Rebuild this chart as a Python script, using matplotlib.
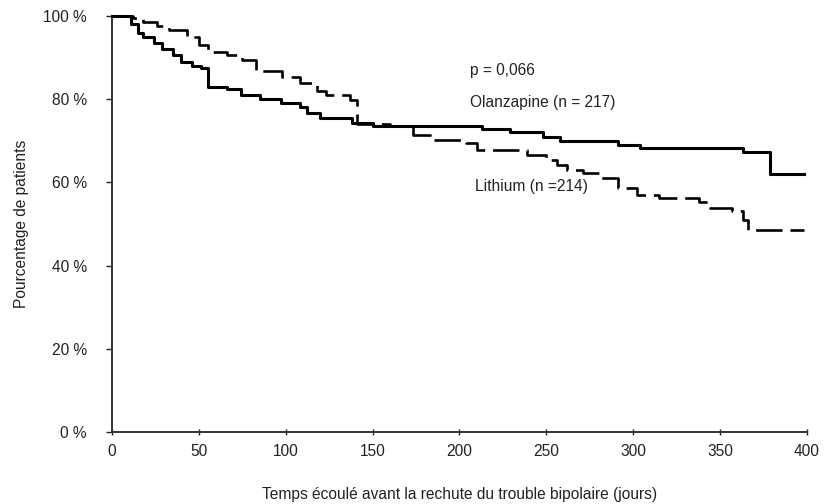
import matplotlib
matplotlib.use("Agg")
import matplotlib.pyplot as plt

plt.rcParams['font.family'] = ['Liberation Sans', 'DejaVu Sans']

# Kaplan-Meier steps (days, % patients without relapse)
olz_days = [0, 11, 15, 18, 24, 29, 35, 40, 46, 51, 55, 66, 74, 85, 97, 108,
            112, 120, 138, 150, 213, 229, 248, 258, 291, 304, 363, 379, 398]
olz_pct = [100, 98, 96, 95, 93.5, 92, 90.5, 89, 88, 87.5, 83, 82.5, 81, 80,
           79, 78, 76.7, 75.5, 74.3, 73.5, 72.8, 72, 71, 70, 69, 68.3, 67.3,
           62, 62]

li_days = [0, 12, 18, 26, 33, 43, 50, 55, 66, 75, 83, 98, 108, 118, 123, 137,
           141, 160, 173, 183, 204, 210, 239, 250, 256, 262, 271, 281, 291,
           302, 315, 338, 344, 357, 363, 366, 398]
li_pct = [100, 99.5, 98.5, 97.5, 96.6, 95, 93, 91.3, 90.6, 89.4, 86.8, 85.3,
          84, 82, 81, 79.8, 74, 73.5, 71.4, 70.2, 69.5, 67.8, 66.6, 65.4,
          64.2, 63, 62.2, 61, 58.6, 57, 56.2, 55.3, 53.8, 53, 51, 48.5, 48.5]

fs = 11.2
txt = '#222'

fig = plt.figure(figsize=(8.27, 5.04), dpi=100)
ax = fig.add_axes([0.1354, 0.1429, 0.8404, 0.8254])

ax.step(olz_days, olz_pct, where='post', color='black', lw=2.2,
        clip_on=False, zorder=3)
li_line, = ax.step(li_days, li_pct, where='post', color='black', lw=1.9,
                   clip_on=False, zorder=3)
li_line.set_dashes([10, 3])

ax.text(206, 87, "p = 0,066", fontsize=fs, color=txt, va='center')
ax.text(206, 79.3, "Olanzapine (n = 217)", fontsize=fs, color=txt,
        va='center')
ax.text(209, 58.9, "Lithium (n =214)", fontsize=fs, color=txt, va='center')

ax.set_xlim(0, 400)
ax.set_ylim(0, 100)
ax.set_xticks(range(0, 401, 50))
ax.set_yticks(range(0, 101, 20))
ax.set_yticklabels([f"{v} %" for v in range(0, 101, 20)])
ax.tick_params(axis='x', direction='inout', length=5, width=1, pad=6,
               labelsize=fs, colors=txt)
ax.tick_params(axis='y', direction='out', length=4, width=1, pad=14,
               labelsize=fs, colors=txt)

for side in ['top', 'right']:
    ax.spines[side].set_visible(False)
for side in ['left', 'bottom']:
    ax.spines[side].set_color('#333')
    ax.spines[side].set_linewidth(1.4)

ax.set_xlabel("Temps écoulé avant la rechute du trouble bipolaire (jours)",
              fontsize=fs, color=txt, labelpad=20)
ax.set_ylabel("Pourcentage de patients", fontsize=fs, color=txt,
              labelpad=10)

fig.savefig("out.png", dpi=100)
